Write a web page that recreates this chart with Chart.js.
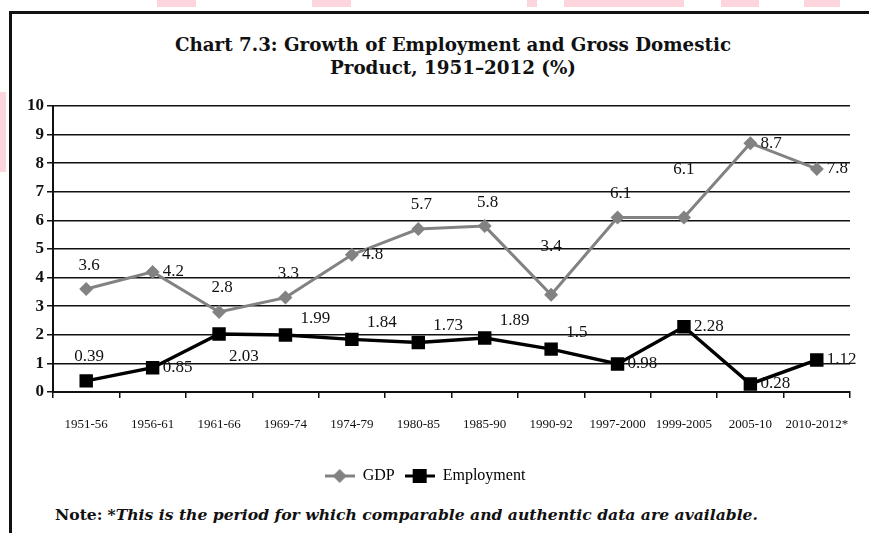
<!DOCTYPE html>
<html>
<head>
<meta charset="utf-8">
<script src="https://cdn.jsdelivr.net/npm/chart.js@4.4.1/dist/chart.umd.min.js"></script>
<style>
  body { margin: 0; background: #fff; }
  .page { position: relative; width: 869px; height: 533px; overflow: hidden; background: #fff; }
  .pink { position: absolute; background: #fdd5dc; }
  .frame { position: absolute; left: 9px; top: 11px; width: 900px; height: 600px; border-top: 3px solid #111; border-left: 3px solid #111; }
  .title { position: absolute; left: 0; width: 906px; top: 33px; text-align: center; font-family: "DejaVu Serif", serif; font-weight: bold; font-size: 18.3px; line-height: 23px; color: #111; }
  .note { position: absolute; left: 55px; top: 505px; font-family: "DejaVu Serif", serif; font-size: 15.6px; color: #111; white-space: nowrap; }
  .note b { font-weight: bold; }
  .note i { font-style: italic; font-weight: bold; }
  .chart-box { position: absolute; left: 0; top: 0; width: 869px; height: 501px; }
</style>
</head>
<body>
<div class="page">
  <div class="pink" style="left:157px;top:0;width:39px;height:7px"></div>
  <div class="pink" style="left:312px;top:0;width:39px;height:7px"></div>
  <div class="pink" style="left:527px;top:0;width:10px;height:7px"></div>
  <div class="pink" style="left:564px;top:0;width:120px;height:7px"></div>
  <div class="pink" style="left:721px;top:0;width:38px;height:7px"></div>
  <div class="pink" style="left:804px;top:0;width:36px;height:7px"></div>
  <div class="pink" style="left:0;top:92px;width:6px;height:80px"></div>
  <div class="frame"></div>
  <div class="title">Chart 7.3: Growth of Employment and Gross Domestic<br>Product, 1951–2012 (%)</div>
  <div class="chart-box"><canvas id="growthChart"></canvas></div>
  <div class="note"><b>Note:</b> <i>*This is the period for which comparable and authentic data are available.</i></div>
</div>
<script>
const periods = ['1951-56', '1956-61', '1961-66', '1969-74', '1974-79', '1980-85', '1985-90', '1990-92', '1997-2000', '1999-2005', '2005-10', '2010-2012*'];
const gdpGrowth = [3.6, 4.2, 2.8, 3.3, 4.8, 5.7, 5.8, 3.4, 6.1, 6.1, 8.7, 7.8];
const employmentGrowth = [0.39, 0.85, 2.03, 1.99, 1.84, 1.73, 1.89, 1.5, 0.98, 2.28, 0.28, 1.12];
const yTicks = [0, 1, 2, 3, 4, 5, 6, 7, 8, 9, 10];

// where each value label sits relative to its point
const gdpLabelPlace = ['top', 'right', 'top', 'top', 'right', 'top', 'top', 'topHigh', 'top', 'topHigh', 'right', 'right'];
const empLabelPlace = ['top', 'right', 'bottomRight', 'topRight', 'topRight', 'topRight', 'topRight', 'topRight', 'right', 'right', 'right', 'right'];

const GDP_COLOR = '#828282';
const EMP_COLOR = '#000000';

const legendIcon = (color, style) => {
    const c = document.createElement('canvas');
    c.width = 30;
    c.height = 16;
    const g = c.getContext('2d');
    g.strokeStyle = color;
    g.lineWidth = 3;
    g.beginPath();
    g.moveTo(0, 8);
    g.lineTo(30, 8);
    g.stroke();
    g.fillStyle = color;
    g.beginPath();
    if (style === 'diamond') {
        g.moveTo(15, 1); g.lineTo(22, 8); g.lineTo(15, 15); g.lineTo(8, 8);
    } else {
        g.rect(8, 1, 14, 14);
    }
    g.closePath();
    g.fill();
    return c;
};

const valueLabels = {
    id: 'valueLabels',
    afterDatasetsDraw(chart) {
        const ctx = chart.ctx;
        const places = [gdpLabelPlace, empLabelPlace];
        ctx.save();
        ctx.font = '17px "Liberation Serif", serif';
        ctx.fillStyle = '#111';
        chart.data.datasets.forEach((ds, di) => {
            const meta = chart.getDatasetMeta(di);
            meta.data.forEach((pt, i) => {
                const text = String(ds.data[i]);
                const place = places[di][i];
                let x = pt.x, y = pt.y;
                ctx.textBaseline = 'middle';
                if (place === 'top') { ctx.textAlign = 'center'; x += 3; y -= 24; }
                else if (place === 'topHigh') { ctx.textAlign = 'center'; y -= 48; }
                else if (place === 'right') { ctx.textAlign = 'left'; x += 10; }
                else if (place === 'topRight') { ctx.textAlign = 'left'; x += 15; y -= 17; }
                else if (place === 'bottomRight') { ctx.textAlign = 'left'; x += 10; y += 23; }
                ctx.fillText(text, x, y);
            });
        });
        ctx.restore();
    }
};

const ctx = document.getElementById('growthChart').getContext('2d');

new Chart(ctx, {
    type: 'line',
    data: {
        labels: periods,
        datasets: [{
            label: 'GDP',
            data: gdpGrowth,
            borderColor: GDP_COLOR,
            backgroundColor: GDP_COLOR,
            borderWidth: 3,
            pointStyle: 'rectRot',
            pointRadius: 7,
            pointBorderWidth: 0,
            tension: 0,
            legendIcon: legendIcon(GDP_COLOR, 'diamond')
        }, {
            label: 'Employment',
            data: employmentGrowth,
            borderColor: EMP_COLOR,
            backgroundColor: EMP_COLOR,
            borderWidth: 3.5,
            pointStyle: 'rect',
            pointRadius: 9.5,
            pointBorderWidth: 0,
            tension: 0,
            legendIcon: legendIcon(EMP_COLOR, 'square')
        }]
    },
    options: {
        responsive: true,
        maintainAspectRatio: false,
        animation: false,
        layout: {
            padding: { top: 106, left: 0, right: 19, bottom: 7 }
        },
        plugins: {
            legend: {
                position: 'bottom',
                labels: {
                    usePointStyle: true,
                    pointStyleWidth: 30,
                    padding: 10,
                    color: '#111',
                    font: { family: '"Liberation Serif", serif', size: 16 },
                    generateLabels: chart => chart.data.datasets.map((ds, i) => ({
                        text: ds.label,
                        pointStyle: ds.legendIcon,
                        fillStyle: ds.borderColor,
                        strokeStyle: ds.borderColor,
                        lineWidth: 0,
                        datasetIndex: i,
                        hidden: false
                    }))
                }
            },
            tooltip: { enabled: false }
        },
        scales: {
            x: {
                offset: true,
                afterFit: scale => { scale.height = 66; },
                grid: {
                    offset: true,
                    drawOnChartArea: false,
                    color: '#111',
                    lineWidth: 1.5,
                    tickLength: 6
                },
                border: { color: '#111', width: 2 },
                ticks: {
                    color: '#111',
                    padding: 19,
                    maxRotation: 0,
                    autoSkip: false,
                    font: { family: '"Liberation Serif", serif', size: 13 }
                }
            },
            y: {
                min: 0,
                max: 10,
                afterFit: scale => { scale.width = 53; },
                afterBuildTicks: scale => { scale.ticks = yTicks.map(v => ({ value: v })); },
                grid: {
                    color: '#111',
                    lineWidth: 1.5,
                    tickLength: 6
                },
                border: { color: '#111', width: 2 },
                ticks: {
                    color: '#111',
                    padding: 3,
                    font: { family: '"Liberation Serif", serif', size: 17, weight: 'bold' }
                }
            }
        }
    },
    plugins: [valueLabels]
});
</script>
</body>
</html>
